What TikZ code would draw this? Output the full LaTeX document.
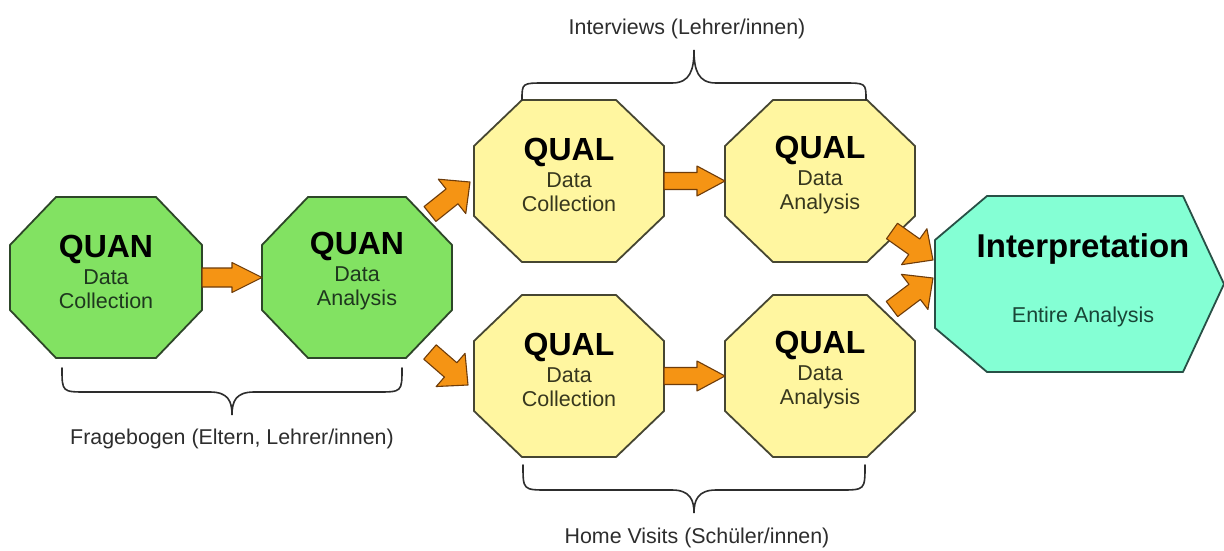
\documentclass[tikz,border=0pt]{standalone}
\usepackage{fontspec}
\setmainfont{Liberation Sans}
\usetikzlibrary{calc}
\definecolor{quanfill}{RGB}{130,226,98}
\definecolor{quanline}{RGB}{45,70,40}
\definecolor{qualfill}{RGB}{255,246,160}
\definecolor{qualline}{RGB}{70,70,50}
\definecolor{intfill}{RGB}{132,255,212}
\definecolor{intline}{RGB}{40,80,70}
\definecolor{arrfill}{RGB}{245,148,20}
\definecolor{arrline}{RGB}{110,60,10}
\definecolor{quantext}{RGB}{30,55,30}
\definecolor{qualtext}{RGB}{55,55,30}
\definecolor{inttext}{RGB}{25,70,55}
\definecolor{labeltext}{RGB}{45,45,45}

\newcommand{\octshape}[4]{% node, style, cx, cy
  \draw[#2] ([xshift=#3pt]#1.north west) -- ([xshift=-#3pt]#1.north east)
    -- ([yshift=-#4pt]#1.north east) -- ([yshift=#4pt]#1.south east)
    -- ([xshift=-#3pt]#1.south east) -- ([xshift=#3pt]#1.south west)
    -- ([yshift=#4pt]#1.south west) -- ([yshift=-#4pt]#1.north west) -- cycle;}

\newcommand{\blockarrow}[5]{% from, to, shaft half, head half, head length
  \path let \p1=(#1), \p2=(#2) in \pgfextra{%
    \pgfmathsetmacro\bangle{atan2(\y2-\y1,\x2-\x1)}%
    \pgfmathsetmacro\blen{veclen(\x2-\x1,\y2-\y1)}%
    \xdef\bAngle{\bangle}\xdef\bLen{\blen}};
  \draw[arrowbody, shift={(#1)}, rotate=\bAngle]
    (0pt,-#3pt) -- ({\bLen pt-#5pt},-#3pt) -- ({\bLen pt-#5pt},-#4pt)
    -- (\bLen pt,0pt) -- ({\bLen pt-#5pt},#4pt) -- ({\bLen pt-#5pt},#3pt)
    -- (0pt,#3pt) -- cycle;}

\begin{document}
\begin{tikzpicture}[x=1pt,y=-1pt,
  shapebox/.style={draw=none, inner sep=0pt, outer sep=0pt},
  quanstyle/.style={fill=quanfill, draw=quanline, line width=1.8pt, line join=round},
  qualstyle/.style={fill=qualfill, draw=qualline, line width=1.8pt, line join=round},
  intstyle/.style={fill=intfill, draw=intline, line width=1.8pt, line join=round},
  arrowbody/.style={fill=arrfill, draw=arrline, line width=1.1pt, line join=round},
  boxtext/.style={align=center, inner sep=0pt, font=\fontsize{21.5}{24}\selectfont},
  bracestyle/.style={draw=labeltext, line width=1.6pt, line cap=round},
  labelstyle/.style={text=labeltext, inner sep=0pt, font=\fontsize{21.4}{24}\selectfont}]
\useasboundingbox (0,0) rectangle (1224,550);
\fill[white] (0,0) rectangle (1224,550);

% shape holders
\node[shapebox, minimum width=192pt, minimum height=161pt] (quan1) at (106,277.5) {};
\node[shapebox, minimum width=190pt, minimum height=161pt] (quan2) at (357,277.5) {};
\node[shapebox, minimum width=190pt, minimum height=162pt] (qual1) at (569,181) {};
\node[shapebox, minimum width=190pt, minimum height=162pt] (qual2) at (820,181) {};
\node[shapebox, minimum width=190pt, minimum height=162pt] (qual3) at (569,376) {};
\node[shapebox, minimum width=190pt, minimum height=162pt] (qual4) at (820,376) {};
\node[shapebox, minimum width=289pt, minimum height=176pt] (interp) at (1079.5,284) {};

\octshape{quan1}{quanstyle}{46}{48}
\octshape{quan2}{quanstyle}{46}{48}
\octshape{qual1}{qualstyle}{48}{46}
\octshape{qual2}{qualstyle}{48}{46}
\octshape{qual3}{qualstyle}{48}{46}
\octshape{qual4}{qualstyle}{48}{46}
\draw[intstyle] ([xshift=52pt]interp.north west) -- ([xshift=-41pt]interp.north east)
  -- (interp.east) -- ([xshift=-41pt]interp.south east) -- ([xshift=52pt]interp.south west)
  -- ([yshift=44pt]interp.south west) -- ([yshift=-44pt]interp.north west) -- cycle;

% texts
\node[boxtext, text=quantext] (quan1t) at ([yshift=6pt]quan1.center)
  {{\fontsize{32}{32}\selectfont\bfseries\color{black}QUAN}\\[3pt]Data\\Collection};
\node[boxtext, text=quantext] (quan2t) at ([yshift=6pt]quan2.center)
  {{\fontsize{32}{32}\selectfont\bfseries\color{black}QUAN}\\[3pt]Data\\Analysis};
\node[boxtext, text=qualtext] (qual1t) at ([yshift=6pt]qual1.center)
  {{\fontsize{32}{32}\selectfont\bfseries\color{black}QUAL}\\[3pt]Data\\Collection};
\node[boxtext, text=qualtext] (qual2t) at ([yshift=6pt]qual2.center)
  {{\fontsize{32}{32}\selectfont\bfseries\color{black}QUAL}\\[3pt]Data\\Analysis};
\node[boxtext, text=qualtext] (qual3t) at ([yshift=6pt]qual3.center)
  {{\fontsize{32}{32}\selectfont\bfseries\color{black}QUAL}\\[3pt]Data\\Collection};
\node[boxtext, text=qualtext] (qual4t) at ([yshift=6pt]qual4.center)
  {{\fontsize{32}{32}\selectfont\bfseries\color{black}QUAL}\\[3pt]Data\\Analysis};
\node[inner sep=0pt, anchor=base, font=\fontsize{33}{33}\selectfont\bfseries] (interpt) at (1083,257) {Interpretation};
\node[inner sep=0pt, anchor=base, text=inttext, font=\fontsize{21.5}{24}\selectfont] (interps) at (1083,322) {Entire Analysis};

% arrows
\coordinate (d1s) at (430,214); \coordinate (d1e) at (470,182);
\coordinate (d2s) at (430,352); \coordinate (d2e) at (468,385);
\coordinate (d3s) at (892,231); \coordinate (d3e) at (933,260);
\coordinate (d4s) at (892,309); \coordinate (d4e) at (933,278);
\blockarrow{quan1.east}{quan2.west}{9.5}{15}{30}
\blockarrow{qual1.east}{qual2.west}{8.5}{15}{28}
\blockarrow{qual3.east}{qual4.west}{8.5}{15}{28}
\blockarrow{d1s}{d1e}{9.5}{22}{23}
\blockarrow{d2s}{d2e}{9.5}{22}{23}
\blockarrow{d3s}{d3e}{9.5}{22}{23}
\blockarrow{d4s}{d4e}{9.5}{22}{23}

% braces
\draw[bracestyle] (62,368) .. controls (62,392) and (62,392) .. (87,392) -- (210,392)
  .. controls (228,392) and (232,401) .. (232,415)
  .. controls (232,401) and (236,392) .. (254,392) -- (377,392)
  .. controls (402,392) and (402,392) .. (402,368);
\draw[bracestyle] (522,100) .. controls (522,83) and (522,83) .. (545,83) -- (672,83)
  .. controls (690,83) and (694,70) .. (694,50)
  .. controls (694,70) and (698,83) .. (716,83) -- (843,83)
  .. controls (866,83) and (866,83) .. (866,100);
\draw[bracestyle] (523,465) .. controls (523,490) and (523,490) .. (548,490) -- (672,490)
  .. controls (690,490) and (694,500) .. (694,513)
  .. controls (694,500) and (698,490) .. (716,490) -- (840,490)
  .. controls (865,490) and (865,490) .. (865,465);

% labels
\node[labelstyle, anchor=base] (lblquan) at (232,444) {Fragebogen (Eltern, Lehrer/innen)};
\node[labelstyle, anchor=base] (lbltop) at (687,34) {Interviews (Lehrer/innen)};
\node[labelstyle, anchor=base] (lblbot) at (697,543) {Home Visits (Schüler/innen)};
\end{tikzpicture}
\end{document}
